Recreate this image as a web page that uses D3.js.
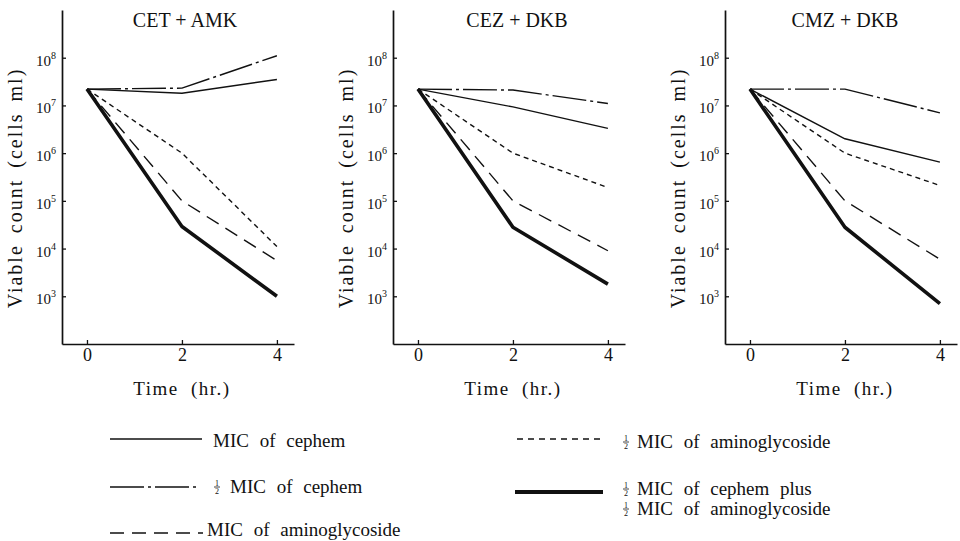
<!DOCTYPE html>
<html>
<head>
<meta charset="utf-8">
<script src="https://cdn.jsdelivr.net/npm/d3@7"></script>
<style>
  body { margin: 0; background: #fff; }
  svg text, svg tspan { font-family: "Liberation Serif", "Times New Roman", Times, "DejaVu Serif", serif !important; fill: #111; }
</style>
</head>
<body>
<svg id="viz" width="960" height="541" font-family="Liberation Serif, serif"></svg>
<script>
// ----- data -----
const times = [0, 2, 4];
const panelTitles = ["CET + AMK", "CEZ + DKB", "CMZ + DKB"];
const yTicks = [1e3, 1e4, 1e5, 1e6, 1e7, 1e8];
const seriesNames = [
  "MIC of cephem",
  "1/2 MIC of cephem",
  "MIC of aminoglycoside",
  "1/2 MIC of aminoglycoside",
  "1/2 MIC of cephem plus 1/2 MIC of aminoglycoside"
];
// rows follow seriesNames, columns follow times (cells/ml)
const cetAmk = [
  [2.2e7, 1.8e7, 3.5e7],
  [2.2e7, 2.3e7, 1.1e8],
  [2.2e7, 1.0e5, 5.6e3],
  [2.2e7, 1.0e6, 1.1e4],
  [2.2e7, 2.9e4, 1.0e3]
];
const cezDkb = [
  [2.2e7, 9.3e6, 3.3e6],
  [2.2e7, 2.1e7, 1.1e7],
  [2.2e7, 1.0e5, 9.0e3],
  [2.2e7, 1.0e6, 1.9e5],
  [2.2e7, 2.8e4, 1.8e3]
];
const cmzDkb = [
  [2.2e7, 2.0e6, 6.5e5],
  [2.2e7, 2.2e7, 7.0e6],
  [2.2e7, 1.0e5, 6.0e3],
  [2.2e7, 1.0e6, 2.1e5],
  [2.2e7, 2.8e4, 7.0e2]
];
const panels = [cetAmk, cezDkb, cmzDkb];

// ----- line styles per series -----
const styles = [
  { w: 1.4, dash: null },
  { w: 1.4, dash: "34,4,3,4" },
  { w: 1.4, dash: "14,8" },
  { w: 1.4, dash: "5,4" },
  { w: 3.6, dash: null }
];

const svg = d3.select("#viz");
const panelLeft = [62, 393, 725];
const titleOffset = [123, 124, 120];
const W = 232, plotTop = 10, plotBottom = 344;

const y = d3.scaleLog().domain([1e2, 1e9]).range([plotBottom, plotTop]);

panels.forEach((rows, p) => {
  const x = d3.scaleLinear().domain([-0.526, 4.36]).range([0, W]);
  const g = svg.append("g").attr("transform", `translate(${panelLeft[p]},0)`);

  // y axis (ticks point inward)
  const ya = g.append("g")
    .call(d3.axisLeft(y).tickValues(yTicks).tickSizeInner(-4).tickSizeOuter(0).tickPadding(6)
      .tickFormat(() => "10"));
  ya.attr("font-family", null).attr("font-size", null);
  ya.selectAll(".tick text")
    .attr("font-size", 15)
    .attr("dy", "0.5em")
    .append("tspan")
    .attr("dy", -7).attr("font-size", 10)
    .text(d => Math.round(Math.log10(d)));

  // x axis (ticks point inward)
  const xa = g.append("g")
    .attr("transform", `translate(0,${plotBottom})`)
    .call(d3.axisBottom(x).tickValues(times).tickFormat(d3.format("d"))
      .tickSizeInner(-4).tickSizeOuter(0).tickPadding(4));
  xa.attr("font-family", null).attr("font-size", null);
  xa.selectAll(".tick text").attr("font-size", 18);

  g.selectAll(".domain").attr("stroke", "#111").attr("stroke-width", 1.7);
  g.selectAll(".tick line").attr("stroke", "#111").attr("stroke-width", 1.3);

  // title and axis labels
  g.append("text")
    .attr("x", titleOffset[p]).attr("y", 27)
    .attr("text-anchor", "middle").attr("font-size", 20)
    .text(panelTitles[p]);
  g.append("text")
    .attr("x", x(2)).attr("y", 395)
    .attr("text-anchor", "middle").attr("font-size", 19)
    .attr("letter-spacing", 1.5).attr("word-spacing", 6)
    .text("Time (hr.)");
  g.append("text")
    .attr("transform", `translate(-40,188) rotate(-90)`)
    .attr("text-anchor", "middle").attr("font-size", 20)
    .attr("letter-spacing", 2).attr("word-spacing", 4)
    .text("Viable count (cells ml)");

  // series lines
  const line = d3.line().x((d, i) => x(times[i])).y(d => y(d));
  g.selectAll("path.series")
    .data(rows)
    .join("path")
    .attr("class", "series")
    .attr("d", line)
    .attr("fill", "none")
    .attr("stroke", "#111")
    .attr("stroke-width", (d, i) => styles[i].w)
    .attr("stroke-dasharray", (d, i) => styles[i].dash)
    .attr("stroke-linejoin", "round");
});

// ----- legend -----
function fraction(cx, yb) {
  const f = svg.append("g");
  f.append("text").attr("x", cx).attr("y", yb - 7).attr("text-anchor", "middle").attr("font-size", 8).text("1");
  f.append("line").attr("x1", cx - 3).attr("x2", cx + 3).attr("y1", yb - 6).attr("y2", yb - 6)
    .attr("stroke", "#111").attr("stroke-width", 0.8);
  f.append("text").attr("x", cx).attr("y", yb + 1).attr("text-anchor", "middle").attr("font-size", 8).text("2");
}

const legendItems = [
  { s: 0, x1: 110, x2: 202, ly: 439, tx: 213, fx: null, yb: 447, lines: ["MIC of cephem"] },
  { s: 1, x1: 110, x2: 200, ly: 487, tx: 230, fx: 217, yb: 493, lines: ["MIC of cephem"] },
  { s: 2, x1: 110, x2: 203, ly: 533, tx: 207, fx: null, yb: 536, lines: ["MIC of aminoglycoside"] },
  { s: 3, x1: 517, x2: 600, ly: 439, tx: 637, fx: 626, yb: 448, lines: ["MIC of aminoglycoside"] },
  { s: 4, x1: 515, x2: 603, ly: 492, tx: 637, fx: 626, yb: 495, lines: ["MIC of cephem plus", "MIC of aminoglycoside"] }
];

legendItems.forEach(it => {
  const st = styles[it.s];
  svg.append("line")
    .attr("x1", it.x1).attr("x2", it.x2).attr("y1", it.ly).attr("y2", it.ly)
    .attr("stroke", "#111").attr("stroke-width", it.s === 4 ? 4 : st.w)
    .attr("stroke-dasharray", it.s === 3 ? "6,5" : st.dash);
  it.lines.forEach((t, k) => {
    const yb = it.yb + k * 20;
    if (it.fx !== null) fraction(it.fx, yb);
    svg.append("text")
      .attr("x", it.tx).attr("y", yb)
      .attr("font-size", 19).attr("word-spacing", 6)
      .text(t);
  });
});
</script>
</body>
</html>
